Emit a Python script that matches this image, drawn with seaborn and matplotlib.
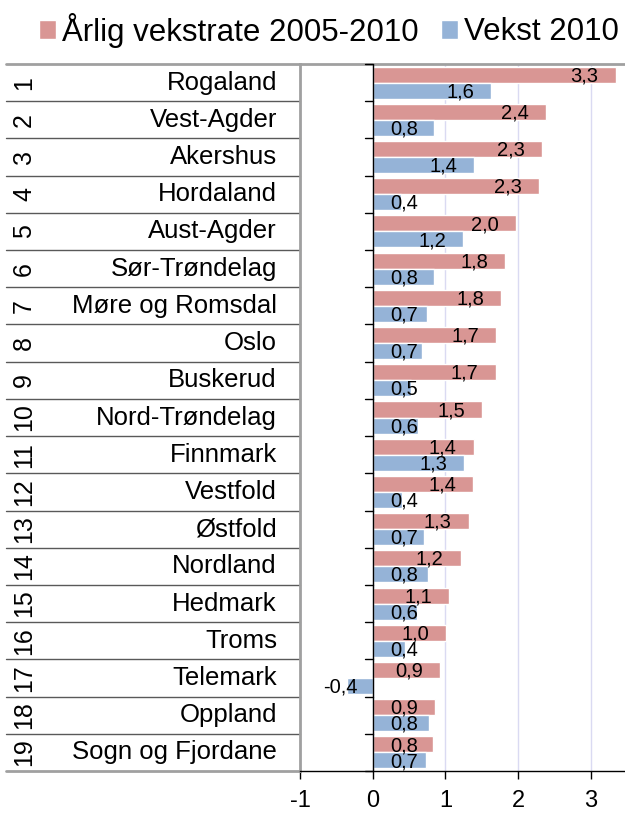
import matplotlib
matplotlib.use("Agg")
import matplotlib.pyplot as plt
import matplotlib.transforms as mtransforms
import seaborn as sns
import numpy as np
import pandas as pd

sns.set_style("white")
plt.rcParams["font.family"] = ["Liberation Sans", "DejaVu Sans"]
plt.rcParams["axes.unicode_minus"] = False
plt.rcParams["text.color"] = "black"
plt.rcParams["xtick.color"] = "black"
plt.rcParams["xtick.labelcolor"] = "black"

# data
fylker = ["Rogaland", "Vest-Agder", "Akershus", "Hordaland", "Aust-Agder",
          "Sør-Trøndelag", "Møre og Romsdal", "Oslo", "Buskerud", "Nord-Trøndelag",
          "Finnmark", "Vestfold", "Østfold", "Nordland", "Hedmark", "Troms",
          "Telemark", "Oppland", "Sogn og Fjordane"]
rang = [str(i) for i in range(1, 20)]
vekstrate = [3.34, 2.38, 2.33, 2.29, 1.97, 1.82, 1.77, 1.70, 1.69, 1.51,
             1.39, 1.38, 1.32, 1.21, 1.05, 1.01, 0.93, 0.86, 0.83]
vekst2010 = [1.63, 0.84, 1.40, 0.39, 1.24, 0.84, 0.74, 0.68, 0.53, 0.62,
             1.26, 0.40, 0.70, 0.76, 0.61, 0.44, -0.36, 0.77, 0.73]
serier = ["Årlig vekstrate 2005-2010", "Vekst 2010"]
farger = ["#D99694", "#95B3D7"]

df = pd.DataFrame({
    "fylke": fylker * 2,
    "serie": [serier[0]] * len(fylker) + [serier[1]] * len(fylker),
    "verdi": vekstrate + vekst2010,
})

fig = plt.figure(figsize=(6.25, 8.13), dpi=100)
ax = fig.add_axes([300 / 625, 42 / 813, 325 / 625, 707 / 813])

sns.barplot(data=df, y="fylke", x="verdi", hue="serie", orient="h",
            palette=farger, width=0.86, saturation=1, ax=ax)

handles, labels = ax.get_legend_handles_labels()
ax.get_legend().remove()

n = len(fylker)
ax.set_ylim(n - 0.5, -0.5)
ax.set_xlim(-1, 3.47)
ax.set_xticks([-1, 0, 1, 2, 3])
ax.set_xlabel("")
ax.set_ylabel("")
ax.tick_params(axis="y", left=False, labelleft=False)
ax.tick_params(axis="x", bottom=True, direction="out", length=6, width=1,
               color="black", labelcolor="black", labelsize=17, pad=8)
ax.set_axisbelow(True)
ax.xaxis.grid(True, color="#DADAF2", lw=1)
ax.axvline(0, color="black", lw=1, zorder=3)

ax.spines["right"].set_visible(False)
ax.spines["left"].set_color("#A0A0A0")
ax.spines["left"].set_linewidth(2)
ax.spines["top"].set_color("#A0A0A0")
ax.spines["top"].set_linewidth(2)
ax.spines["bottom"].set_color("black")
ax.spines["bottom"].set_linewidth(1)

# value labels
for cont in ax.containers:
    for bar in cont:
        v = bar.get_width()
        yc = bar.get_y() + bar.get_height() / 2
        txt = f"{v:.1f}".replace(".", ",")
        if v >= 0:
            xr = max(v - 0.235, 0.625)
        else:
            xr = v + 0.15
        ax.text(xr, yc + 0.03, txt, ha="right", va="center", fontsize=14.5,
                color="black", zorder=4)

# left table: names, ranks, separators
trans = mtransforms.blended_transform_factory(ax.transAxes, ax.transData)
x0 = (6 - 300) / 325
for i, (nm, r) in enumerate(zip(fylker, rang)):
    ax.text((277 - 300) / 325, i, nm, transform=trans, ha="right", va="center",
            fontsize=18.5, color="black", clip_on=False)
    ax.text((24 - 300) / 325, i, r, transform=trans, ha="center", va="center",
            rotation=90, fontsize=18, color="black", clip_on=False)
for i in range(n + 1):
    yb = i - 0.5
    if 0 < i < n:
        ax.plot([x0, 0], [yb, yb], transform=trans, color="#595959", lw=1,
                clip_on=False)
    ax.plot([-0.1, 0], [yb, yb], color="black", lw=1, clip_on=False, zorder=3)
for yb in [-0.5, n - 0.5]:
    ax.plot([x0, 0], [yb, yb], transform=trans, color="#A0A0A0", lw=2,
            clip_on=False)

fig.legend(handles, labels, loc="center", bbox_to_anchor=(329 / 625, 1 - 30 / 813),
           ncol=2, frameon=False, fontsize=22.5, handlelength=0.55, handleheight=0.55,
           handletextpad=0.2, columnspacing=0.7, borderaxespad=0, borderpad=0)

fig.savefig("out.png", dpi=100)
